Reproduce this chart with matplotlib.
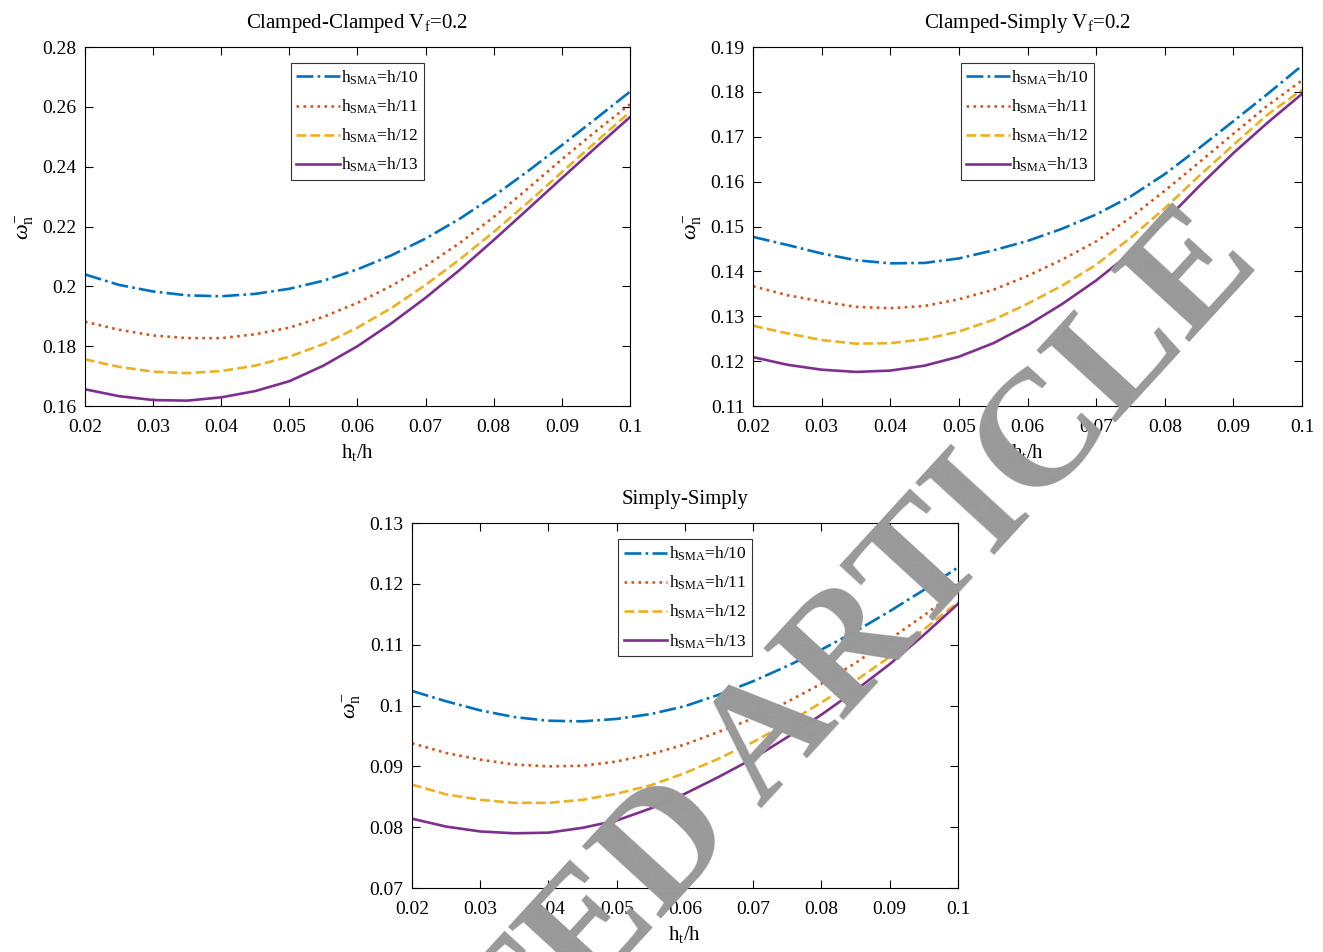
#!/usr/bin/env python3
import numpy as np
import matplotlib
matplotlib.use("Agg")
import matplotlib.pyplot as plt
from matplotlib.ticker import FormatStrFormatter

# ====== DATA (step 0.005 in h_t/h) ======
ht_h = [0.020, 0.025, 0.030, 0.035, 0.040, 0.045, 0.050, 0.055, 0.060,
        0.065, 0.070, 0.075, 0.080, 0.085, 0.090, 0.095, 0.100]

# Clamped-Clamped, Vf = 0.2
cc_h10 = [0.2040, 0.2005, 0.1983, 0.1970, 0.1967, 0.1975, 0.1992, 0.2019, 0.2057,
          0.2104, 0.2160, 0.2226, 0.2302, 0.2385, 0.2472, 0.2561, 0.2651]
cc_h11 = [0.1882, 0.1855, 0.1836, 0.1827, 0.1827, 0.1840, 0.1862, 0.1898, 0.1945,
          0.2002, 0.2068, 0.2145, 0.2232, 0.2327, 0.2425, 0.2519, 0.2609]
cc_h12 = [0.1756, 0.1731, 0.1715, 0.1710, 0.1717, 0.1735, 0.1765, 0.1807, 0.1862,
          0.1928, 0.2005, 0.2090, 0.2182, 0.2280, 0.2382, 0.2483, 0.2583]
cc_h13 = [0.1656, 0.1633, 0.1620, 0.1618, 0.1629, 0.1650, 0.1683, 0.1735, 0.1800,
          0.1877, 0.1962, 0.2055, 0.2155, 0.2258, 0.2362, 0.2465, 0.2566]

# Clamped-Simply, Vf = 0.2
cs_h10 = [0.1477, 0.1459, 0.1440, 0.1425, 0.1418, 0.1419, 0.1429, 0.1447, 0.1468,
          0.1495, 0.1527, 0.1567, 0.1617, 0.1675, 0.1735, 0.1796, 0.1859]
cs_h11 = [0.1367, 0.1347, 0.1333, 0.1321, 0.1318, 0.1323, 0.1338, 0.1359, 0.1390,
          0.1426, 0.1467, 0.1520, 0.1580, 0.1643, 0.1707, 0.1770, 0.1826]
cs_h12 = [0.1279, 0.1262, 0.1247, 0.1239, 0.1240, 0.1249, 0.1266, 0.1292, 0.1328,
          0.1368, 0.1415, 0.1475, 0.1541, 0.1613, 0.1682, 0.1750, 0.1805]
cs_h13 = [0.1209, 0.1192, 0.1181, 0.1176, 0.1179, 0.1190, 0.1210, 0.1240, 0.1280,
          0.1327, 0.1380, 0.1441, 0.1512, 0.1590, 0.1664, 0.1732, 0.1796]

# Simply-Simply
ss_h10 = [0.1024, 0.1007, 0.0992, 0.0981, 0.0975, 0.0974, 0.0978, 0.0986, 0.0999,
          0.1018, 0.1040, 0.1065, 0.1092, 0.1122, 0.1155, 0.1190, 0.1227]
ss_h11 = [0.0938, 0.0922, 0.0911, 0.0903, 0.0900, 0.0901, 0.0908, 0.0920, 0.0936,
          0.0957, 0.0979, 0.1006, 0.1036, 0.1070, 0.1109, 0.1148, 0.1190]
ss_h12 = [0.0870, 0.0854, 0.0845, 0.0840, 0.0840, 0.0845, 0.0855, 0.0869, 0.0889,
          0.0913, 0.0940, 0.0971, 0.1005, 0.1041, 0.1080, 0.1125, 0.1170]
ss_h13 = [0.0814, 0.0801, 0.0793, 0.0790, 0.0791, 0.0799, 0.0811, 0.0831, 0.0855,
          0.0883, 0.0913, 0.0948, 0.0985, 0.1025, 0.1068, 0.1116, 0.1167]

labels = [r"h$_\mathrm{SMA}$=h/10", r"h$_\mathrm{SMA}$=h/11",
          r"h$_\mathrm{SMA}$=h/12", r"h$_\mathrm{SMA}$=h/13"]
titles = [r"Clamped-Clamped V$_\mathrm{f}$=0.2",
          r"Clamped-Simply V$_\mathrm{f}$=0.2",
          "Simply-Simply"]
ylims = [(0.16, 0.28), (0.11, 0.19), (0.07, 0.13)]
ysteps = [0.02, 0.01, 0.01]

# ====== STYLE ======
colors = ["#0072BD", "#D95319", "#EDB120", "#7E2F8E"]
styles = ["-.", ":", "--", "-"]

plt.rcParams["font.family"] = ["Liberation Serif", "DejaVu Serif"]
plt.rcParams["mathtext.fontset"] = "custom"
plt.rcParams["mathtext.rm"] = "Liberation Serif"
plt.rcParams["mathtext.it"] = "Liberation Serif:italic"
plt.rcParams["font.size"] = 14


def draw_panel(ax, series, title, ylim, ystep):
    for y, c, ls, lab in zip(series, colors, styles, labels):
        ax.plot(ht_h, y, color=c, ls=ls, lw=1.9, label=lab)
    ax.set_xlim(0.02, 0.1)
    ax.set_ylim(*ylim)
    ax.set_xticks(np.arange(0.02, 0.1001, 0.01))
    ax.set_yticks(np.arange(ylim[0], ylim[1] + 1e-9, ystep))
    ax.xaxis.set_major_formatter(FormatStrFormatter("%g"))
    ax.yaxis.set_major_formatter(FormatStrFormatter("%g"))
    ax.tick_params(direction="in", top=True, right=True, length=6,
                   labelsize=14)
    ax.tick_params(axis="x", pad=9)
    ax.tick_params(axis="y", pad=6)
    ax.set_xlabel(r"h$_\mathrm{t}$/h", fontsize=15, labelpad=5)
    ax.set_ylabel(r"$\omega^{-}_{\mathrm{n}}$", fontsize=16, labelpad=4)
    ax.set_title(title, fontsize=15, pad=14)
    leg = ax.legend(loc="upper center", bbox_to_anchor=(0.5, 0.955),
                    fontsize=12.5, fancybox=False, framealpha=1,
                    handlelength=2.5, handletextpad=0.1, labelspacing=0.62,
                    borderpad=0.3, borderaxespad=0)
    leg.get_frame().set_edgecolor("#333333")
    leg.get_frame().set_linewidth(0.8)


fig = plt.figure(figsize=(13.23, 9.52), dpi=100)
ax1 = fig.add_axes([0.0642, 0.5735, 0.412, 0.377])
ax2 = fig.add_axes([0.5692, 0.5735, 0.415, 0.377])
ax3 = fig.add_axes([0.3114, 0.0672, 0.4127, 0.3834])

draw_panel(ax1, [cc_h10, cc_h11, cc_h12, cc_h13], titles[0], ylims[0], ysteps[0])
draw_panel(ax2, [cs_h10, cs_h11, cs_h12, cs_h13], titles[1], ylims[1], ysteps[1])
draw_panel(ax3, [ss_h10, ss_h11, ss_h12, ss_h13], titles[2], ylims[2], ysteps[2])

# watermark over the panels
fig.text(0.494, 0.026, "RETRACTED ARTICLE", color="#999999",
         fontsize=118, fontweight="bold", family="Liberation Serif",
         rotation=47.5, rotation_mode="anchor", ha="center", va="baseline",
         zorder=10)

fig.savefig("out.png", dpi=100)
